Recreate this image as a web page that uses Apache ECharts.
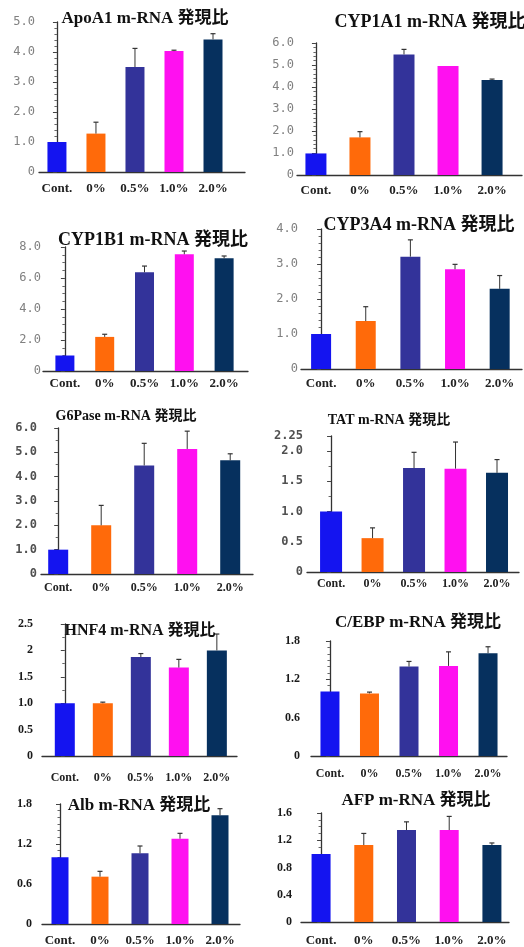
<!DOCTYPE html>
<html>
<head>
<meta charset="utf-8">
<script src="https://cdn.jsdelivr.net/npm/echarts@6/dist/echarts.min.js"></script>
<style>
html,body{margin:0;padding:0;background:#fff;}
#c{width:524px;height:947px;}
</style>
</head>
<body>
<div id="c"></div>
<script>
// ---- data ----
const categories = ['Cont.', '0%', '0.5%', '1.0%', '2.0%'];

const apoA1Mean = [1.00, 1.28, 3.50, 4.03, 4.42];
const apoA1Err  = [0.00, 0.38, 0.62, 0.03, 0.19];
const cyp1a1Mean = [0.98, 1.71, 5.48, 4.95, 4.32];
const cyp1a1Err  = [0.02, 0.26, 0.23, 0.03, 0.04];
const cyp1b1Mean = [1.00, 2.20, 6.37, 7.53, 7.27];
const cyp1b1Err  = [0.02, 0.17, 0.40, 0.21, 0.15];
const cyp3a4Mean = [1.00, 1.37, 3.21, 2.85, 2.29];
const cyp3a4Err  = [0.01, 0.41, 0.48, 0.14, 0.38];
const g6paseMean = [1.00, 2.00, 4.46, 5.14, 4.67];
const g6paseErr  = [0.00, 0.82, 0.91, 0.73, 0.27];
const tatMean = [1.00, 0.56, 1.72, 1.71, 1.64];
const tatErr  = [0.00, 0.17, 0.26, 0.44, 0.22];
const hnf4Mean = [1.00, 1.00, 1.875, 1.675, 2.00];
const hnf4Err  = [0.00, 0.02, 0.065, 0.155, 0.31];
const cebpMean = [1.01, 0.98, 1.40, 1.41, 1.61];
const cebpErr  = [0.00, 0.02, 0.08, 0.22, 0.10];
const albMean = [1.00, 0.71, 1.06, 1.28, 1.63];
const albErr  = [0.00, 0.08, 0.11, 0.08, 0.10];
const afpMean = [1.00, 1.13, 1.35, 1.35, 1.13];
const afpErr  = [0.00, 0.17, 0.12, 0.20, 0.03];

const ticksApoA1 = [0, 1, 2, 3, 4, 5];          const labelsApoA1 = ['0','1.0','2.0','3.0','4.0','5.0'];
const ticksCyp1a1 = [0, 1, 2, 3, 4, 5, 6];      const labelsCyp1a1 = ['0','1.0','2.0','3.0','4.0','5.0','6.0'];
const ticksCyp1b1 = [0, 2, 4, 6, 8];            const labelsCyp1b1 = ['0','2.0','4.0','6.0','8.0'];
const ticksCyp3a4 = [0, 1, 2, 3, 4];            const labelsCyp3a4 = ['0','1.0','2.0','3.0','4.0'];
const ticksG6pase = [0, 1, 2, 3, 4, 5, 6];      const labelsG6pase = ['0','1.0','2.0','3.0','4.0','5.0','6.0'];
const ticksTat = [0, 0.5, 1, 1.5, 2, 2.25];     const labelsTat = ['0','0.5','1.0','1.5','2.0','2.25'];
const ticksHnf4 = [0, 0.5, 1, 1.5, 2, 2.5];     const labelsHnf4 = ['0','0.5','1.0','1.5','2','2.5'];
const ticksCebp = [0, 0.6, 1.2, 1.8];           const labelsCebp = ['0','0.6','1.2','1.8'];
const ticksAlb = [0, 0.6, 1.2, 1.8];            const labelsAlb = ['0','0.6','1.2','1.8'];
const ticksAfp = [0, 0.4, 0.8, 1.2, 1.6];       const labelsAfp = ['0','0.4','0.8','1.2','1.6'];

// ---- layout / style ----
const barColors = ['#1414f0', '#ff6a0a', '#33339a', '#ff10f0', '#06305e'];
const yStyleA = {fontFamily: '"DejaVu Sans Mono", monospace', fontSize: 12, color: '#808080', fontWeight: 'normal'};
const yStyleB = {fontFamily: '"DejaVu Sans Mono", monospace', fontSize: 12, color: '#505050', fontWeight: 'bold'};
const yStyleC = {fontFamily: '"Liberation Serif", serif', fontSize: 12, color: '#1a1a1a', fontWeight: 'bold'};

const panels = [
  {title:'ApoA1 m-RNA 発現比', mean:apoA1Mean, err:apoA1Err, ticks:ticksApoA1, labels:labelsApoA1, interval:1, minor:5,
   x0:39, x1:245, top:22, base:172, xmin:-0.46, xmax:4.82, cx:145, cy:21, fs:17, bw:19, ys:yStyleA, ym:4, xm:10, xfs:13},
  {title:'CYP1A1 m-RNA 発現比', mean:cyp1a1Mean, err:cyp1a1Err, ticks:ticksCyp1a1, labels:labelsCyp1a1, interval:1, minor:5,
   x0:297, x1:522, top:43, base:175, xmin:-0.43, xmax:4.68, cx:430, cy:25, fs:18, bw:21, ys:yStyleA, ym:3, xm:9, xfs:13},
  {title:'CYP1B1 m-RNA 発現比', mean:cyp1b1Mean, err:cyp1b1Err, ticks:ticksCyp1b1, labels:labelsCyp1b1, interval:2, minor:4,
   x0:43, x1:248, top:247, base:371, xmin:-0.55, xmax:4.6, cx:153, cy:243, fs:18, bw:19, ys:yStyleA, ym:2, xm:6, xfs:13},
  {title:'CYP3A4 m-RNA 発現比', mean:cyp3a4Mean, err:cyp3a4Err, ticks:ticksCyp3a4, labels:labelsCyp3a4, interval:1, minor:5,
   x0:301, x1:522, top:229, base:369, xmin:-0.45, xmax:4.5, cx:419, cy:228, fs:18, bw:20, ys:yStyleA, ym:3, xm:8, xfs:13},
  {title:'G6Pase m-RNA 発現比', mean:g6paseMean, err:g6paseErr, ticks:ticksG6pase, labels:labelsG6pase, interval:1, minor:2,
   x0:41, x1:253, top:428, base:574, xmin:-0.4, xmax:4.53, cx:126, cy:418, fs:14, bw:20, ys:yStyleB, ym:4, xm:8, xfs:12},
  {title:'TAT m-RNA 発現比', mean:tatMean, err:tatErr, ticks:ticksTat, labels:labelsTat, interval:0.5, minor:2,
   x0:307, x1:519, top:436, base:572, xmin:-0.58, xmax:4.53, cx:389, cy:422, fs:14, bw:22, ys:yStyleB, ym:4, xm:6, xfs:12},
  {title:'HNF4 m-RNA 発現比', mean:hnf4Mean, err:hnf4Err, ticks:ticksHnf4, labels:labelsHnf4, interval:0.5, minor:2,
   x0:42, x1:237, top:624, base:756, xmin:-0.6, xmax:4.53, cx:140, cy:633, fs:16, bw:20, ys:yStyleC, ym:9, xm:16, xfs:12},
  {title:'C/EBP m-RNA 発現比', mean:cebpMean, err:cebpErr, ticks:ticksCebp, labels:labelsCebp, interval:0.6, minor:6,
   x0:311, x1:507, top:641, base:756, xmin:-0.48, xmax:4.48, cx:418, cy:625, fs:17, bw:19, ys:yStyleC, ym:11, xm:12, xfs:12},
  {title:'Alb m-RNA 発現比', mean:albMean, err:albErr, ticks:ticksAlb, labels:labelsAlb, interval:0.6, minor:6,
   x0:42, x1:240, top:804, base:926, xmin:-0.45, xmax:4.5, cx:139, cy:808, fs:17, bw:17, ys:yStyleC, ym:10, xm:10, xfs:13},
  {title:'AFP m-RNA 発現比', mean:afpMean, err:afpErr, ticks:ticksAfp, labels:labelsAfp, interval:0.4, minor:4,
   x0:301, x1:509, top:813, base:924, xmin:-0.47, xmax:4.4, cx:416, cy:803, fs:17, bw:19, ys:yStyleC, ym:9, xm:12, xfs:13}
];

const H = 947, W = 524;
const option = {backgroundColor:'#fff', animation:false, title:[], grid:[], xAxis:[], yAxis:[], series:[]};

panels.forEach((p, k) => {
  option.title.push({
    text: p.title, left: p.cx, top: p.cy - p.fs * 0.62, textAlign: 'center', padding: 0,
    textStyle: {fontFamily: '"Liberation Serif", "Noto Sans CJK JP", serif', fontWeight: 'bold', fontSize: p.fs, color: '#111'}
  });
  option.grid.push({left: p.x0, width: p.x1 - p.x0, top: p.top, height: p.base - p.top, containLabel: false});
  option.xAxis.push({
    type: 'value', gridIndex: k, min: p.xmin, max: p.xmax,
    splitLine: {show: false},
    axisLine: {show: true, onZero: false, lineStyle: {color: '#333', width: 1.3}},
    axisTick: {show: false},
    axisLabel: {
      customValues: [0, 1, 2, 3, 4], margin: p.xm,
      formatter: v => categories[Math.round(v)],
      fontFamily: '"Liberation Serif", serif', fontWeight: 'bold', fontSize: p.xfs, color: '#222'
    }
  });
  option.yAxis.push({
    type: 'value', gridIndex: k, min: 0, max: p.ticks[p.ticks.length - 1], interval: p.interval,
    splitLine: {show: false},
    axisLine: {show: true, lineStyle: {color: '#333', width: 1.3}},
    axisTick: {show: true, customValues: p.ticks, length: 4, lineStyle: {color: '#444'}},
    minorTick: {show: true, splitNumber: p.minor, length: 2.5, lineStyle: {color: '#666'}},
    axisLabel: Object.assign({
      customValues: p.ticks, margin: p.ym,
      formatter: v => { const i = p.ticks.findIndex(t => Math.abs(t - v) < 1e-6); return i >= 0 ? p.labels[i] : ''; }
    }, p.ys)
  });
  option.series.push({
    type: 'bar', xAxisIndex: k, yAxisIndex: k, barWidth: p.bw,
    data: p.mean.map((v, i) => ({value: [i, v], itemStyle: {color: barColors[i]}}))
  });
  option.series.push({
    type: 'custom', xAxisIndex: k, yAxisIndex: k, z: 3,
    data: p.mean.map((v, i) => [i, v, v + p.err[i]]),
    renderItem: (params, api) => {
      const lo = api.coord([api.value(0), api.value(1)]);
      const hi = api.coord([api.value(0), api.value(2)]);
      if (lo[1] - hi[1] < 0.8) return null;
      return {type: 'group', children: [
        {type: 'line', shape: {x1: lo[0], y1: lo[1], x2: hi[0], y2: hi[1]}, style: {stroke: '#333', lineWidth: 1}},
        {type: 'line', shape: {x1: hi[0] - 2.5, y1: hi[1], x2: hi[0] + 2.5, y2: hi[1]}, style: {stroke: '#333', lineWidth: 1.2}}
      ]};
    }
  });
});

const chart = echarts.init(document.getElementById('c'), null, {renderer: 'canvas', width: W, height: H});
chart.setOption(option);
</script>
</body>
</html>
